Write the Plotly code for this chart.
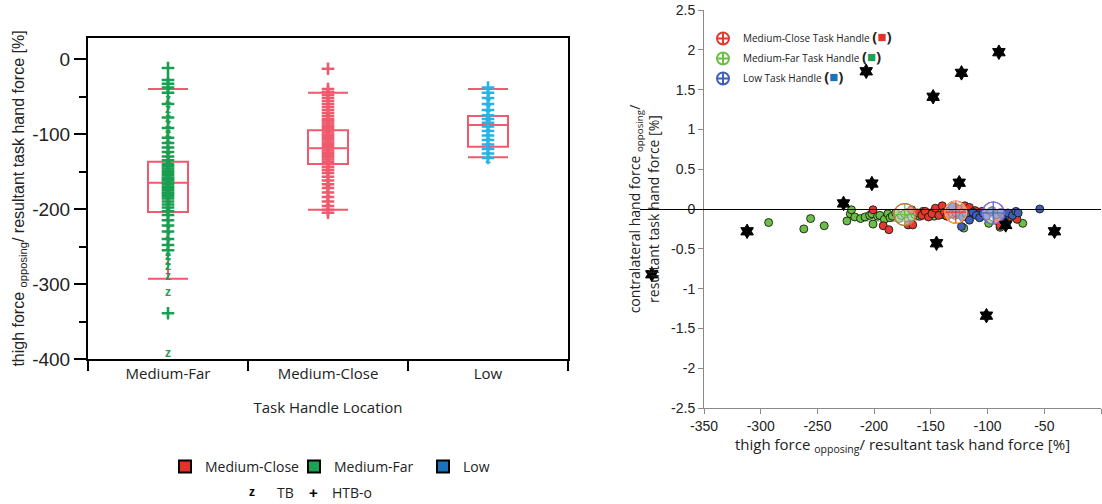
import numpy as np
import plotly.graph_objects as go

# ---------------- left panel: thigh force by task handle location ----------------
categories = ["Medium-Far", "Medium-Close", "Low"]

# box statistics per category (q1, median, q3, whiskers)
box_q1 = [-204, -140, -117]
box_median = [-165, -119, -88]
box_q3 = [-137, -95, -76]
box_lower = [-293, -201, -131]
box_upper = [-40, -45, -40]

# individual trials: HTB-o (+) and TB (z)
mf_htb = [-12, -28, -33, -38, -45, -60, -78, -92, -105, -112, -118, -124, -130, -135,
          -140, -143, -146, -149, -152, -155, -158, -160, -162, -165, -167, -170, -172,
          -175, -178, -180, -183, -186, -190, -194, -198, -203, -208, -215, -222, -230,
          -240, -248, -255, -339]
mf_tb = [-42, -55, -68, -80, -88, -95, -100, -108, -115, -122, -128, -134, -139, -145,
         -150, -156, -161, -168, -174, -181, -188, -196, -205, -212, -220, -228, -236,
         -245, -252, -258, -264, -270, -277, -290, -312, -393]
mc_htb = [-13, -40, -44, -48, -52, -56, -60, -64, -68, -72, -76, -80, -83, -86, -89, -92,
          -95, -98, -101, -104, -107, -110, -113, -116, -119, -122, -125, -128, -131,
          -134, -137, -140, -144, -148, -152, -157, -162, -167, -172, -178, -184, -190,
          -196, -201, -205]
mc_tb = [-78, -85, -93, -100, -108, -115, -124, -133, -145, -155, -165, -175, -187, -198]
low_htb = [-38, -45, -52, -60, -68, -75, -80, -85, -90, -96, -102, -108, -114, -120,
           -126, -132]
low_tb = [-42, -50, -58, -66, -72, -78, -83, -88, -93, -99, -105, -111, -117, -123,
          -129, -134]

left_yticks = [0, -100, -200, -300, -400]
left_yticklabels = ["0", "-100", "-200", "-300", "-400"]

# ---------------- right panel: contralateral vs thigh force ----------------
green_x = [-293, -262, -256, -244, -224, -221, -220, -217, -212, -208, -204, -202, -201,
           -197, -195, -191, -188, -186, -184, -181, -178, -176, -173, -170, -167, -164,
           -160, -157, -154, -150, -147, -143, -140, -136, -133, -129, -126, -121, -99,
           -89, -69]
green_y = [-0.17, -0.25, -0.12, -0.21, -0.15, -0.06, -0.01, -0.10, -0.12, -0.10, -0.08,
           -0.06, -0.19, -0.09, -0.08, -0.13, -0.06, -0.11, -0.09, -0.05, -0.12, -0.08,
           -0.06, -0.04, -0.10, -0.07, -0.09, -0.03, -0.06, -0.05, -0.09, -0.04, -0.07,
           -0.03, -0.06, -0.08, -0.05, -0.24, -0.18, -0.23, -0.18]
red_x = [-201, -192, -187, -170, -166, -167, -162, -158, -155, -152, -149, -146, -143,
         -140, -138, -136, -133, -131, -128, -126, -124, -122, -120, -118, -116, -113,
         -111, -108, -105, -102, -99, -96, -91, -89, -84, -80, -76, -74]
red_y = [-0.01, -0.21, -0.26, -0.20, -0.20, -0.01, -0.05, -0.08, -0.03, -0.10, -0.06,
         0.01, -0.08, 0.04, -0.04, -0.09, -0.02, -0.06, 0.02, -0.07, 0.00, -0.04, 0.04,
         -0.08, 0.02, -0.05, -0.02, -0.06, -0.03, -0.09, -0.05, -0.02, -0.15, -0.21,
         -0.06, -0.10, -0.08, -0.13]
blue_x = [-131, -128, -123, -122, -119, -116, -113, -110, -107, -104, -101, -97, -92,
          -88, -85, -82, -78, -75, -73, -54]
blue_y = [0.03, -0.05, -0.22, -0.10, -0.06, -0.14, -0.04, -0.08, -0.11, -0.05, -0.09,
          -0.03, -0.07, -0.04, -0.10, -0.05, -0.08, -0.03, -0.05, 0.00]
star_x = [-396, -312, -227, -202, -207, -148, -123, -90, -125, -145, -101, -84, -41]
star_y = [-0.82, -0.28, 0.07, 0.32, 1.73, 1.41, 1.71, 1.97, 0.33, -0.43, -1.34, -0.20,
          -0.28]

handle_names = ["Medium-Close", "Medium-Far", "Low"]
mean_x = [-128, -173, -95]
mean_y = [-0.04, -0.07, -0.05]
# spread ellipses: centre, half-widths and tilt
ell_cx = [-148, -180, -108]
ell_cy = [-0.08, -0.09, -0.06]
ell_a = [36, 40, 22]
ell_b = [0.05, 0.07, 0.065]
ell_tilt = [0.002, 0.0008, 0.0]

right_xticks = [-350, -300, -250, -200, -150, -100, -50, 0]
right_xticklabels = ["-350", "-300", "-250", "-200", "-150", "-100", "-50", "0"]
right_yticks = [2.5, 2, 1.5, 1, 0.5, 0, -0.5, -1, -1.5, -2, -2.5]
right_yticklabels = ["2.5", "2", "1.5", "1", "0.5", "0", "-0.5", "-1", "-1.5", "-2", "-2.5"]

# ---------------- styling ----------------
W, H = 1102, 504
PINK = "#ef5a6e"
GREEN_PT = "#1a9f52"
CYAN_PT = "#27b4e4"
LEG_RED, LEG_GREEN, LEG_BLUE = "#e8302a", "#1aa352", "#1b72bb"
SC_RED, SC_GREEN, SC_BLUE = "#e8382e", "#6cbf45", "#3f5fb8"
ELL_FILL = ["rgba(232,70,70,0.5)", "rgba(120,195,95,0.5)", "rgba(95,105,205,0.55)"]
MEAN_COL = [SC_RED, SC_GREEN, SC_BLUE]
LEG_COL = [LEG_RED, LEG_GREEN, LEG_BLUE]

# right panel pixel geometry: x axis spans 397 px for 350 units
R_PX = (704, 1101)
R_SCALE = (R_PX[1] - R_PX[0]) / 350.0
STAR_PX0 = 640  # the star layer reaches further left, same scale

fig = go.Figure()

# trial markers
for cat, htb, tb, col in [("Medium-Far", mf_htb, mf_tb, GREEN_PT),
                          ("Medium-Close", mc_htb, mc_tb, PINK),
                          ("Low", low_htb, low_tb, CYAN_PT)]:
    fig.add_trace(go.Scatter(
        x=[cat] * len(htb), y=htb, mode="markers", showlegend=False,
        marker=dict(symbol="cross-thin-open", size=9, color=col,
                    line=dict(color=col, width=2.6)),
        xaxis="x", yaxis="y"))
    fig.add_trace(go.Scatter(
        x=[cat] * len(tb), y=tb, mode="text", text=["<b>z</b>"] * len(tb),
        textfont=dict(family="Liberation Sans", size=12, color=col),
        textposition="middle center", showlegend=False, xaxis="x", yaxis="y"))

# box summaries
for i, cat in enumerate(categories):
    fig.add_trace(go.Box(
        x=[cat], q1=[box_q1[i]], median=[box_median[i]], q3=[box_q3[i]],
        lowerfence=[box_lower[i]], upperfence=[box_upper[i]],
        boxpoints=False, width=0.25, whiskerwidth=1,
        line=dict(color=PINK, width=2), fillcolor="rgba(0,0,0,0)",
        showlegend=False, xaxis="x", yaxis="y"))

# colour key for task handle locations (bottom left)
for name, col in zip(handle_names, LEG_COL):
    fig.add_trace(go.Scatter(
        x=[None], y=[None], mode="markers", name=name, legend="legend2",
        marker=dict(symbol="square", size=13, color=col, line=dict(color="black", width=2)),
        xaxis="x", yaxis="y"))

# right panel: spread ellipses
t = np.linspace(0, 2 * np.pi, 80)
for i in range(3):
    ex = ell_cx[i] + ell_a[i] * np.cos(t)
    ey = ell_cy[i] + ell_b[i] * np.sin(t) + ell_tilt[i] * (ex - ell_cx[i])
    fig.add_trace(go.Scatter(
        x=ex, y=ey, mode="lines", fill="toself", fillcolor=ELL_FILL[i],
        line=dict(width=0), hoverinfo="skip", showlegend=False,
        xaxis="x2", yaxis="y2"))

for xs, ys, col in [(green_x, green_y, SC_GREEN), (red_x, red_y, SC_RED),
                    (blue_x, blue_y, SC_BLUE)]:
    fig.add_trace(go.Scatter(
        x=xs, y=ys, mode="markers", showlegend=False,
        marker=dict(symbol="circle", size=8, color=col, line=dict(color="#1a1a1a", width=0.9)),
        xaxis="x2", yaxis="y2"))

# group means
for i, name in enumerate(handle_names):
    key = (f"{name} Task Handle <span style='font-size:15px'><b>(</b>"
           f"<span style='color:{LEG_COL[i]}'>■</span><b>)</b></span>")
    fig.add_trace(go.Scatter(
        x=[mean_x[i]], y=[mean_y[i]], mode="markers", name=key,
        legend="legend3", legendgroup=name,
        marker=dict(symbol="circle-cross", size=22, color="rgba(255,255,255,0.45)",
                    line=dict(color=MEAN_COL[i], width=1.2)),
        xaxis="x2", yaxis="y2"))
    fig.add_trace(go.Scatter(
        x=[mean_x[i]], y=[mean_y[i]], mode="markers", showlegend=False,
        marker=dict(symbol="circle-open", size=22, line=dict(color="#333333", width=1)),
        xaxis="x2", yaxis="y2"))

# black stars share the right panel's y axis and x scale
fig.add_trace(go.Scatter(
    x=star_x, y=star_y, mode="markers", showlegend=False, cliponaxis=False,
    marker=dict(symbol="hexagram", size=11, color="black", line=dict(color="black", width=1)),
    xaxis="x3", yaxis="y2"))

# ---------------- layout ----------------
L_X = [88 / W, 568 / W]
L_Y = [1 - 359 / H, 1 - 38 / H]
R_X = [R_PX[0] / W, R_PX[1] / W]
R_Y = [1 - 408 / H, 1 - 10 / H]
X3_RANGE = [-(R_PX[1] - STAR_PX0) / R_SCALE, 0]

ann_font = dict(family="Open Sans", size=14, color="#222222")
row2_y = 1 - 492 / H

fig.update_layout(
    width=W, height=H, margin=dict(l=0, r=0, t=0, b=0),
    paper_bgcolor="white", plot_bgcolor="rgba(0,0,0,0)",
    font=dict(family="Liberation Sans", color="#222222"),
    xaxis=dict(
        domain=L_X, type="category", categoryorder="array", categoryarray=categories,
        range=[-0.5, 2.5], showline=True, linecolor="black", linewidth=2, mirror=True,
        ticks="outside", tickson="boundaries", ticklen=10, tickwidth=2, tickcolor="black",
        showgrid=False, zeroline=False, automargin=False,
        tickfont=dict(family="Open Sans", size=15, color="#222222"),
        title=dict(text="Task Handle Location", standoff=20,
                   font=dict(family="Open Sans", size=15, color="#222222"))),
    yaxis=dict(
        domain=L_Y, range=[-400, 28], showline=True, linecolor="black", linewidth=2,
        mirror=True, ticks="outside", ticklen=12, tickwidth=2, tickcolor="black",
        tickvals=left_yticks, ticktext=left_yticklabels,
        minor=dict(dtick=50, ticks="outside", ticklen=7, tickwidth=2, tickcolor="black",
                   showgrid=False, tick0=0),
        showgrid=False, zeroline=False, automargin=False,
        tickfont=dict(family="Liberation Sans", size=19, color="#222222"),
        title=dict(text="thigh force <sub>opposing</sub>/ resultant task hand force [%]",
                   standoff=4, font=dict(family="Liberation Sans", size=16, color="#222222"))),
    xaxis2=dict(
        domain=R_X, range=[-350, 0], anchor="y2", showline=True, linecolor="#8a8a8a",
        linewidth=1, ticks="outside", ticklen=5, tickcolor="#8a8a8a",
        tickvals=right_xticks, ticktext=right_xticklabels,
        showgrid=False, zeroline=False, automargin=False,
        tickfont=dict(family="Liberation Sans", size=14, color="#222222"),
        title=dict(text="thigh force <sub>opposing</sub>/ resultant task hand force [%]",
                   standoff=5, font=dict(family="Open Sans", size=15, color="#222222"))),
    xaxis3=dict(
        domain=[STAR_PX0 / W, R_PX[1] / W], range=X3_RANGE, anchor="y2",
        visible=False, showgrid=False, zeroline=False, automargin=False),
    yaxis2=dict(
        domain=R_Y, range=[-2.5, 2.5], anchor="x2", showline=True, linecolor="#8a8a8a",
        linewidth=1, ticks="outside", ticklen=5, tickcolor="#8a8a8a",
        tickvals=right_yticks, ticktext=right_yticklabels,
        showgrid=False, zeroline=True, zerolinecolor="black", zerolinewidth=1,
        automargin=False,
        tickfont=dict(family="Liberation Sans", size=14, color="#222222"),
        title=dict(text="contralateral hand force <sub>opposing</sub>/<br>resultant task hand force [%]",
                   standoff=8, font=dict(family="Open Sans", size=14, color="#222222"))),
    legend2=dict(
        orientation="h", x=165 / W, xanchor="left", y=1 - 451 / H, yanchor="top",
        entrywidth=84, entrywidthmode="pixels",
        font=dict(family="Open Sans", size=14, color="#222222"),
        bgcolor="rgba(0,0,0,0)", itemsizing="constant"),
    legend3=dict(
        x=703 / W, xanchor="left", y=1 - 24 / H, yanchor="top",
        font=dict(family="Open Sans", size=10, color="#222222"),
        bgcolor="rgba(0,0,0,0)", itemsizing="constant", tracegroupgap=1),
    annotations=[
        dict(text="<b>z</b>", x=252 / W, y=row2_y, xref="paper", yref="paper",
             xanchor="center", yanchor="middle", showarrow=False,
             font=dict(family="Liberation Sans", size=12, color="black")),
        dict(text="TB", x=285 / W, y=row2_y, xref="paper", yref="paper",
             xanchor="center", yanchor="middle", showarrow=False, font=ann_font),
        dict(text="<b>+</b>", x=313 / W, y=row2_y, xref="paper", yref="paper",
             xanchor="center", yanchor="middle", showarrow=False,
             font=dict(family="Liberation Sans", size=15, color="black")),
        dict(text="HTB-o", x=352 / W, y=row2_y, xref="paper", yref="paper",
             xanchor="center", yanchor="middle", showarrow=False, font=ann_font),
    ],
)

fig.write_html("out.html")
